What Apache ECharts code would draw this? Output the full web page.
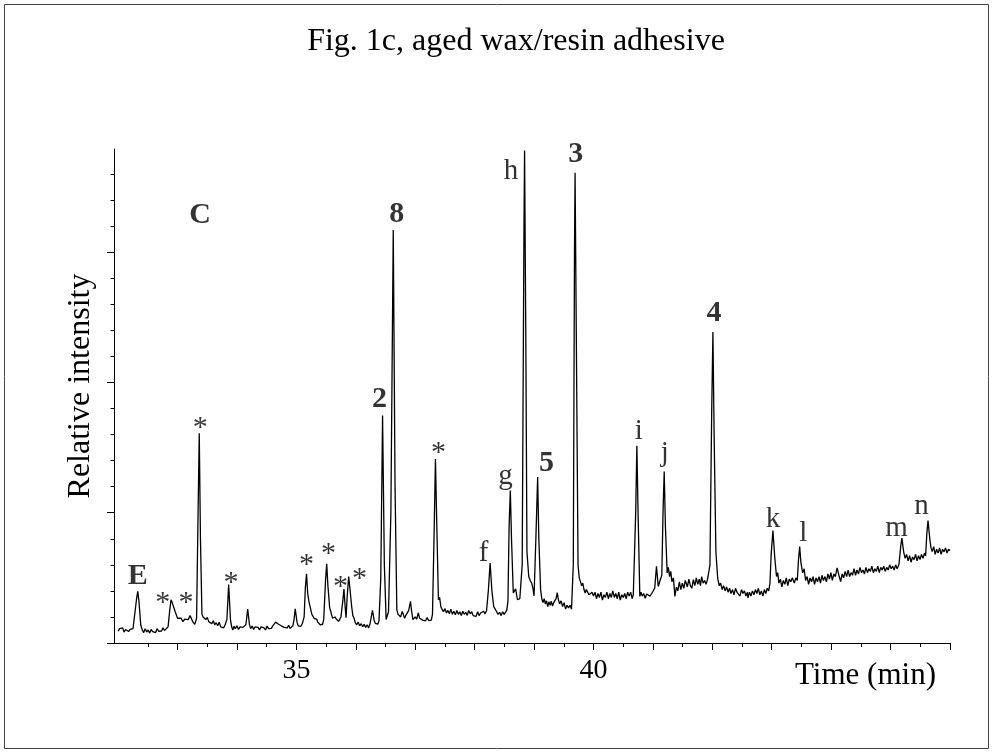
<!DOCTYPE html>
<html>
<head>
<meta charset="utf-8">
<script src="https://cdn.jsdelivr.net/npm/echarts@6/dist/echarts.min.js"></script>
<style>
html,body{margin:0;padding:0;background:#fff;}
#main{width:994px;height:753px;}
</style>
</head>
<body>
<div id="main"></div>
<script>
// ---- data (time in min, relative intensity) ----
const signalA = [
[32.00,0.45],[32.025,0.55],[32.05,0.48],[32.075,0.58],[32.10,0.42],[32.125,0.52],[32.15,0.55],[32.175,0.44],[32.20,0.52],[32.225,0.46],[32.25,0.55],[32.28,0.60],[32.31,1.70],[32.33,1.98],[32.35,1.60],[32.38,0.70],[32.405,0.50],[32.43,0.40],[32.455,0.55],[32.48,0.42],[32.505,0.50],[32.53,0.38],[32.555,0.52],[32.58,0.44],[32.605,0.50],[32.63,0.40],[32.655,0.55],[32.68,0.45],[32.705,0.52],[32.73,0.46],[32.755,0.58],[32.78,0.48],[32.81,0.55],[32.84,0.62],[32.87,1.30],[32.89,1.66],[32.91,1.55],[32.93,1.62],[32.96,1.20],[33.00,0.95],
[33.03,0.88],[33.06,0.95],[33.09,0.82],[33.12,0.92],[33.15,0.85],[33.18,0.90],[33.21,1.05],[33.23,1.10],[33.26,0.80],[33.29,0.72],[33.32,0.95],[33.345,5.0],[33.365,8.05],[33.385,4.0],[33.41,1.10],[33.43,1.00],[33.45,1.05],[33.475,0.90],[33.50,0.98],[33.525,0.82],[33.55,0.85],[33.575,0.74],[33.60,0.85],[33.625,0.70],[33.65,0.78],[33.675,0.66],[33.70,0.80],[33.725,0.62],[33.75,0.68],[33.775,0.58],[33.80,0.70],[33.83,0.90],[33.86,2.24],[33.89,0.90],[33.91,0.62],[33.93,0.50],[33.95,0.65],[33.97,0.55],
[34.00,0.66],[34.025,0.52],[34.05,0.62],[34.075,0.55],[34.10,0.60],[34.13,0.58],[34.15,0.70],[34.18,1.30],[34.21,0.70],[34.23,0.55],[34.255,0.65],[34.28,0.52],[34.305,0.62],[34.33,0.55],[34.355,0.60],[34.38,0.50],[34.405,0.62],[34.43,0.55],[34.455,0.58],[34.48,0.50],[34.505,0.65],[34.53,0.55],[34.555,0.60],[34.58,0.56],[34.60,0.65],[34.625,0.72],[34.65,0.80],[34.68,0.87],[34.70,0.72],[34.72,0.78],[34.745,0.66],[34.77,0.70],[34.795,0.60],[34.82,0.66],[34.845,0.58],[34.87,0.68],[34.895,0.56],[34.92,0.62],[34.94,0.66],[34.96,0.90],[34.98,1.31]
];
const signalB = [
[35.01,0.80],[35.03,0.66],[35.05,0.72],[35.075,0.64],[35.10,0.75],[35.13,1.00],[35.15,2.10],[35.17,2.66],[35.19,1.90],[35.21,1.60],[35.23,1.55],[35.26,1.10],[35.28,1.02],[35.30,0.94],[35.32,1.00],[35.34,0.92],[35.36,0.80],[35.38,0.75],[35.40,0.70],[35.42,0.64],[35.44,0.72],[35.46,0.90],[35.49,2.40],[35.51,3.04],[35.53,2.20],[35.56,1.35],[35.58,1.20],[35.59,1.10],[35.61,0.95],[35.63,0.90],[35.65,1.00],[35.67,0.92],[35.69,0.98],[35.71,0.83],[35.73,0.90],[35.75,1.00],[35.78,1.60],[35.80,2.07],[35.82,1.40],[35.835,0.97],[35.855,1.80],[35.88,2.55],[35.90,2.10],[35.93,1.40],[35.95,1.05],[35.97,0.95],
[35.99,0.78],[36.015,0.70],[36.04,0.80],[36.065,0.66],[36.09,0.74],[36.115,0.62],[36.14,0.72],[36.165,0.60],[36.19,0.70],[36.215,0.58],[36.24,0.75],[36.26,0.70],[36.28,1.25],[36.31,0.85],[36.33,0.75],[36.35,0.78],[36.37,0.72],[36.39,0.85],[36.42,2.50],[36.45,8.73],[36.48,3.00],[36.51,0.90],[36.55,1.20],[36.59,5.00],[36.63,15.85],[36.66,6.0],[36.69,1.28],[36.71,1.10],[36.73,1.15],[36.755,1.00],[36.78,1.21],[36.80,1.10],[36.82,0.95],[36.84,1.05],[36.86,1.10],[36.89,1.25],[36.92,1.60],[36.94,1.20],[36.96,0.90],[36.98,0.95],
[37.00,1.00],[37.025,0.92],[37.05,1.16],[37.075,0.95],[37.10,1.02],[37.125,0.88],[37.15,0.95],[37.175,0.85],[37.20,0.98],[37.225,0.86],[37.25,0.92],[37.27,0.88],[37.29,1.10],[37.32,4.50],[37.34,7.06],[37.36,4.80],[37.39,1.66],[37.41,1.75],[37.43,1.40],[37.45,1.30],[37.475,1.20],[37.50,1.32],[37.525,1.15],[37.55,1.25],[37.575,1.12],[37.60,1.30],[37.625,1.10],[37.65,1.22],[37.675,1.08],[37.70,1.25],[37.725,1.10],[37.75,1.20],[37.775,1.05],[37.80,1.22],[37.825,1.10],[37.85,1.18],[37.875,1.06],[37.90,1.25],[37.925,1.12],[37.95,1.20],[37.975,1.05]
];
const signalC = [
[38.00,1.12],[38.025,1.02],[38.05,1.20],[38.075,1.05],[38.10,1.15],[38.125,1.08],[38.15,1.22],[38.175,1.12],[38.20,1.25],[38.23,2.00],[38.26,3.07],[38.29,2.00],[38.32,1.40],[38.345,1.30],[38.37,1.20],[38.395,1.10],[38.42,1.18],[38.445,1.05],[38.47,1.20],[38.495,1.10],[38.52,1.16],[38.54,1.25],[38.56,1.60],[38.58,4.50],[38.60,5.85],[38.62,4.00],[38.65,1.92],[38.67,2.00],[38.69,2.08],[38.72,1.66],[38.76,1.70],[38.80,3.0],[38.83,16.0],[38.84,18.9],[38.86,12.0],[38.88,3.5],[38.91,2.55],[38.935,2.40],[38.96,2.30],[38.98,2.10],
[39.00,1.81],[39.03,4.00],[39.06,6.37],[39.08,4.0],[39.11,2.04],[39.13,1.70],[39.15,1.55],[39.17,1.70],[39.19,1.50],[39.21,1.62],[39.23,1.40],[39.25,1.58],[39.27,1.45],[39.29,1.60],[39.31,1.42],[39.33,1.55],[39.35,1.60],[39.37,1.70],[39.39,1.93],[39.41,1.65],[39.43,1.50],[39.455,1.62],[39.48,1.40],[39.505,1.55],[39.53,1.30],[39.555,1.45],[39.58,1.35],[39.605,1.45],[39.63,1.30],[39.66,3.0],[39.68,15.0],[39.69,18.05],[39.71,12.0],[39.74,3.0],[39.76,2.50],[39.78,2.43],[39.80,2.20],[39.82,2.30],[39.84,2.05],[39.86,1.92],[39.88,2.05],[39.90,2.10],[39.925,1.85],[39.95,1.79],[39.975,1.95],
[40.00,1.80],[40.025,1.95],[40.05,1.70],[40.075,1.90],[40.10,1.75],[40.125,1.95],[40.15,1.65],[40.175,1.85],[40.20,1.75],[40.225,1.95],[40.25,1.70],[40.275,1.90],[40.30,1.75],[40.325,2.00],[40.35,1.75],[40.375,1.90],[40.40,1.70],[40.425,1.95],[40.45,1.65],[40.475,1.85],[40.50,1.75],[40.525,1.90],[40.55,1.70],[40.575,1.95],[40.60,1.80],[40.625,1.95],[40.65,1.70],[40.67,1.85],[40.69,1.90],[40.71,5.00],[40.73,7.57],[40.75,5.0],[40.78,1.79],[40.80,1.95],[40.82,1.80],[40.845,1.90],[40.87,1.72],[40.895,1.88],[40.92,1.93],[40.95,1.80],[40.98,1.90]
];
const signalD = [
[41.03,2.10],[41.06,2.94],[41.09,2.17],[41.12,2.40],[41.15,2.6],[41.17,5.0],[41.19,6.58],[41.21,4.5],[41.24,2.69],[41.26,2.9],[41.28,2.55],[41.30,2.75],[41.32,2.35],[41.345,2.5],[41.37,1.79],[41.395,2.15],[41.42,2.00],[41.445,2.35],[41.47,2.05],[41.495,2.30],[41.52,2.10],[41.545,2.40],[41.58,2.15],[41.605,2.45],[41.63,2.20],[41.655,2.10],[41.68,2.43],[41.705,2.20],[41.73,2.50],[41.755,2.25],[41.78,2.45],[41.80,2.20],[41.82,2.55],[41.845,2.30],[41.87,2.40],[41.895,2.25],[41.92,2.45],[41.94,2.40],[41.96,3.0],[41.99,9.0],[42.01,11.94],[42.03,8.0],[42.06,3.5],[42.09,2.49],
[42.115,2.2],[42.14,2.30],[42.165,2.05],[42.19,2.20],[42.215,2.0],[42.24,2.15],[42.265,1.95],[42.29,2.10],[42.315,1.90],[42.34,2.05],[42.365,1.85],[42.39,2.10],[42.415,1.95],[42.44,2.0],[42.465,1.80],[42.49,2.05],[42.515,1.90],[42.54,2.0],[42.565,1.80],[42.59,1.95],[42.60,1.73],[42.625,1.95],[42.65,1.80],[42.675,2.0],[42.70,1.85],[42.725,2.05],[42.75,1.90],[42.775,2.10],[42.80,1.85],[42.825,2.00],[42.85,1.80],[42.875,2.05],[42.90,1.90],[42.925,2.1],[42.95,2.0],[42.97,2.3],[42.99,3.40],[43.02,4.32],[43.05,3.30],[43.08,2.55],[43.10,2.7],[43.12,2.30],[43.145,2.45],[43.17,2.15],[43.195,2.40],[43.22,2.25],[43.245,2.50],[43.27,2.20],[43.295,2.45],[43.32,2.35],[43.345,2.5],[43.38,2.30],[43.405,2.50],[43.43,2.40],[43.45,3.20],[43.47,3.70],[43.49,3.10],[43.52,2.69],[43.545,2.85],[43.57,2.40],[43.595,2.55],[43.62,2.25],[43.645,2.50],[43.67,2.35],[43.695,2.55],[43.72,2.25],[43.745,2.50],[43.77,2.35],[43.795,2.55],[43.82,2.30],[43.845,2.60],[43.87,2.40],[43.895,2.55],[43.92,2.35],[43.945,2.65],[43.97,2.45],[43.995,2.70],
[44.02,2.40],[44.045,2.65],[44.07,2.55],[44.10,2.88],[44.13,2.60],[44.16,2.36],[44.185,2.65],[44.21,2.50],[44.235,2.75],[44.26,2.55],[44.285,2.80],[44.31,2.55],[44.335,2.70],[44.36,2.60],[44.385,2.85],[44.41,2.60],[44.435,2.80],[44.46,2.65],[44.485,2.90],[44.51,2.70],[44.535,2.80],[44.56,2.65],[44.585,2.90],[44.61,2.70],[44.635,2.85],[44.66,2.75],[44.685,2.95],[44.71,2.70],[44.735,2.85],[44.76,2.75],[44.785,2.95],[44.81,2.70],[44.835,2.90],[44.86,2.80],[44.885,2.95],[44.91,2.75],[44.935,2.90],[44.96,2.80],[44.985,3.00],
[45.01,2.85],[45.035,2.95],[45.06,2.80],[45.085,3.00],[45.11,2.85],[45.14,3.00],[45.17,3.70],[45.19,4.03],[45.22,3.50],[45.245,3.25],[45.27,3.40],[45.295,3.15],[45.32,3.35],[45.345,3.10],[45.37,3.30],[45.395,3.20],[45.42,3.40],[45.445,3.15],[45.47,3.35],[45.495,3.20],[45.52,3.40],[45.545,3.25],[45.57,3.45],[45.59,3.35],[45.61,4.20],[45.63,4.70],[45.66,4.00],[45.68,3.65],[45.70,3.51],[45.725,3.70],[45.75,3.40],[45.775,3.60],[45.80,3.45],[45.825,3.65],[45.85,3.40],[45.875,3.60],[45.90,3.50],[45.925,3.65],[45.95,3.45],[45.975,3.60],[46.00,3.55]
];

// peak annotations: [time, intensity, text, bold]
const peakLabels = [
[32.33,2.62,'E',1],[32.75,1.81,'*',0],[33.14,1.81,'*',0],[33.38,8.53,'*',0],[33.38,16.50,'C',1],[33.90,2.58,'*',0],
[35.17,3.27,'*',0],[35.54,3.69,'*',0],[35.74,2.43,'*',0],[36.06,2.73,'*',0],
[36.40,9.45,'2',1],[36.69,16.55,'8',1],[37.39,7.57,'*',0],
[38.15,3.50,'f',0],[38.52,6.49,'g',0],[38.61,18.19,'h',0],[39.21,6.99,'5',1],[39.70,18.85,'3',1],
[40.76,8.18,'i',0],[41.20,7.37,'j',0],[42.03,12.75,'4',1],[43.02,4.81,'k',0],[43.53,4.27,'l',0],[45.10,4.46,'m',0],[45.52,5.31,'n',0]
];

const xRange = [31.93, 46.0];
const yRange = [0, 18.96];
const xMajorTicks = [33,34,35,36,37,38,39,40,41,42,43,44,45,46];
const xMinorTicks = [32.5,33.5,34.5,35.5,36.5,37.5,38.5,39.5,40.5,41.5,42.5,43.5,44.5,45.5];
const xTickLabels = [35, 40];
const yMajorTicks = [0,5,10,15];
const yMinorTicks = [1,2,3,4,6,7,8,9,11,12,13,14,16,17,18];

const titleText = 'Fig. 1c, aged wax/resin adhesive';
const xName = 'Time (min)';
const yName = 'Relative intensity';

// ---- chart ----
const FONT = '"Liberation Serif", "Times New Roman", serif';
const chart = echarts.init(document.getElementById('main'), null, {renderer: 'canvas'});
const signal = signalA.concat(signalB, signalC, signalD);

const labelData = peakLabels.map(p => ({
  value: [p[0], p[1]],
  label: {
    formatter: p[2],
    fontWeight: p[3] ? 'bold' : 'normal',
    fontSize: p[2] === '*' ? 30 : (p[3] ? 30 : 29),
    offset: p[2] === '*' ? [0, 7] : [0, 2]
  }
}));

chart.setOption({
  animation: false,
  backgroundColor: '#fff',
  title: {
    text: titleText,
    left: 511, top: 21, textAlign: 'center',
    textStyle: {fontFamily: FONT, fontSize: 32, fontWeight: 'normal', color: '#000'}
  },
  grid: {left: 114, right: 44, top: 149, bottom: 110, containLabel: false},
  xAxis: [
    {
      type: 'value', min: xRange[0], max: xRange[1], position: 'bottom',
      axisLine: {show: true, onZero: false, lineStyle: {color: '#000', width: 1}},
      axisTick: {show: true, length: 7, customValues: xMajorTicks, lineStyle: {color: '#000', width: 1}},
      axisLabel: {show: true, customValues: xTickLabels, margin: 14, color: '#000', fontFamily: FONT, fontSize: 28},
      splitLine: {show: false}
    },
    {
      type: 'value', min: xRange[0], max: xRange[1], position: 'bottom',
      axisLine: {show: false, onZero: false},
      axisTick: {show: true, length: 4, customValues: xMinorTicks, lineStyle: {color: '#000', width: 1}},
      axisLabel: {show: false},
      splitLine: {show: false}
    }
  ],
  yAxis: [
    {
      type: 'value', min: yRange[0], max: yRange[1], position: 'left',
      axisLine: {show: true, onZero: false, lineStyle: {color: '#000', width: 1}},
      axisTick: {show: true, length: 7, customValues: yMajorTicks, lineStyle: {color: '#000', width: 1}},
      axisLabel: {show: false},
      splitLine: {show: false}
    },
    {
      type: 'value', min: yRange[0], max: yRange[1], position: 'left',
      axisLine: {show: false, onZero: false},
      axisTick: {show: true, length: 3.5, customValues: yMinorTicks, lineStyle: {color: '#000', width: 1}},
      axisLabel: {show: false},
      splitLine: {show: false}
    }
  ],
  graphic: [
    {type: 'rect', shape: {x: 4.5, y: 4.5, width: 984, height: 744}, style: {fill: null, stroke: '#444', lineWidth: 1}, silent: true},
    {type: 'text', x: 795, y: 676, style: {text: xName, font: '31px ' + FONT, fill: '#000', textVerticalAlign: 'middle'}},
    {type: 'text', x: 81, y: 386, rotation: Math.PI / 2, style: {text: yName, font: '32px ' + FONT, fill: '#000', textAlign: 'center', textVerticalAlign: 'middle'}}
  ],
  series: [
    {
      type: 'line', xAxisIndex: 0, yAxisIndex: 0, data: signal,
      showSymbol: false, symbol: 'none',
      lineStyle: {color: '#000', width: 1.3}, silent: true, z: 3
    },
    {
      type: 'scatter', xAxisIndex: 0, yAxisIndex: 0, data: labelData,
      symbolSize: 1, itemStyle: {color: 'rgba(0,0,0,0)'}, silent: true, z: 4,
      label: {show: true, position: 'inside', color: '#000', fontFamily: FONT, fontSize: 29}
    }
  ]
});
</script>
</body>
</html>
